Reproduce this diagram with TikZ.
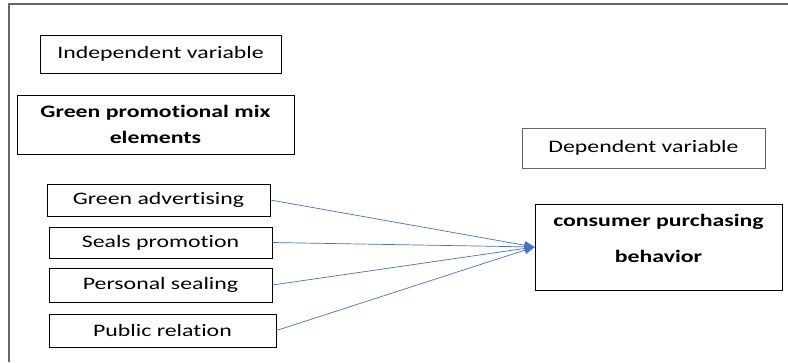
\documentclass[tikz,border=0pt]{standalone}
\usepackage{fontspec}
\setmainfont{Carlito}[FakeStretch=1.36,Ligatures=NoCommon]
\usepackage{xcolor}
\usepackage{tikz}
\usetikzlibrary{arrows.meta,positioning}
\definecolor{LinkBlue}{HTML}{4472C4}

\begin{document}
\begin{tikzpicture}[
  x=1pt, y=-1pt,
  varbox/.style={rectangle, draw=black, line width=0.9pt, align=center, inner sep=0pt, font=\fontsize{17.5}{21}\selectfont},
  headbox/.style={varbox, font=\fontsize{17.5}{21}\selectfont\bfseries},
  link/.style={-{Triangle[length=10pt,width=8pt]}, LinkBlue, line width=0.7pt}
]
\useasboundingbox (0,0) rectangle (788,362);

% frame
\draw[gray!80!black, line width=1.6pt] (788,4) -- (9,4) -- (9,362);

% Labels
\node[varbox, minimum width=241pt, minimum height=38pt] (indep) at (160.5,54) {Independent variable};
\node[headbox, minimum width=277pt, minimum height=59pt] (mix) at (155.5,124.5) {Green promotional mix\\[5pt]elements};
\node[varbox, draw=gray!80!black, minimum width=243pt, minimum height=40pt] (dep) at (643.5,148) {Dependent variable};

% Dependent
\node[headbox, minimum width=247pt, minimum height=86pt, text depth=18pt] (cpb) at (658.5,247) {consumer purchasing\\[15pt]behavior};

% Independent elements
\node[varbox, minimum width=223pt, minimum height=32pt] (adv) at (158.5,200) {Green advertising};
\node[varbox, minimum width=223pt, minimum height=31pt] (seals) at (160.5,242.5) {Seals promotion};
\node[varbox, minimum width=223pt, minimum height=34pt] (pers) at (160.5,285) {Personal sealing};
\node[varbox, minimum width=227pt, minimum height=33pt] (pub) at (162.5,330.5) {Public relation};

% Arrows
\draw[link] (adv.east) -- (cpb.west);
\draw[link] (seals.east) -- (cpb.west);
\draw[link] (pers.east) -- (cpb.west);
\draw[link] (pub.east) -- (cpb.west);

\end{tikzpicture}
\end{document}
